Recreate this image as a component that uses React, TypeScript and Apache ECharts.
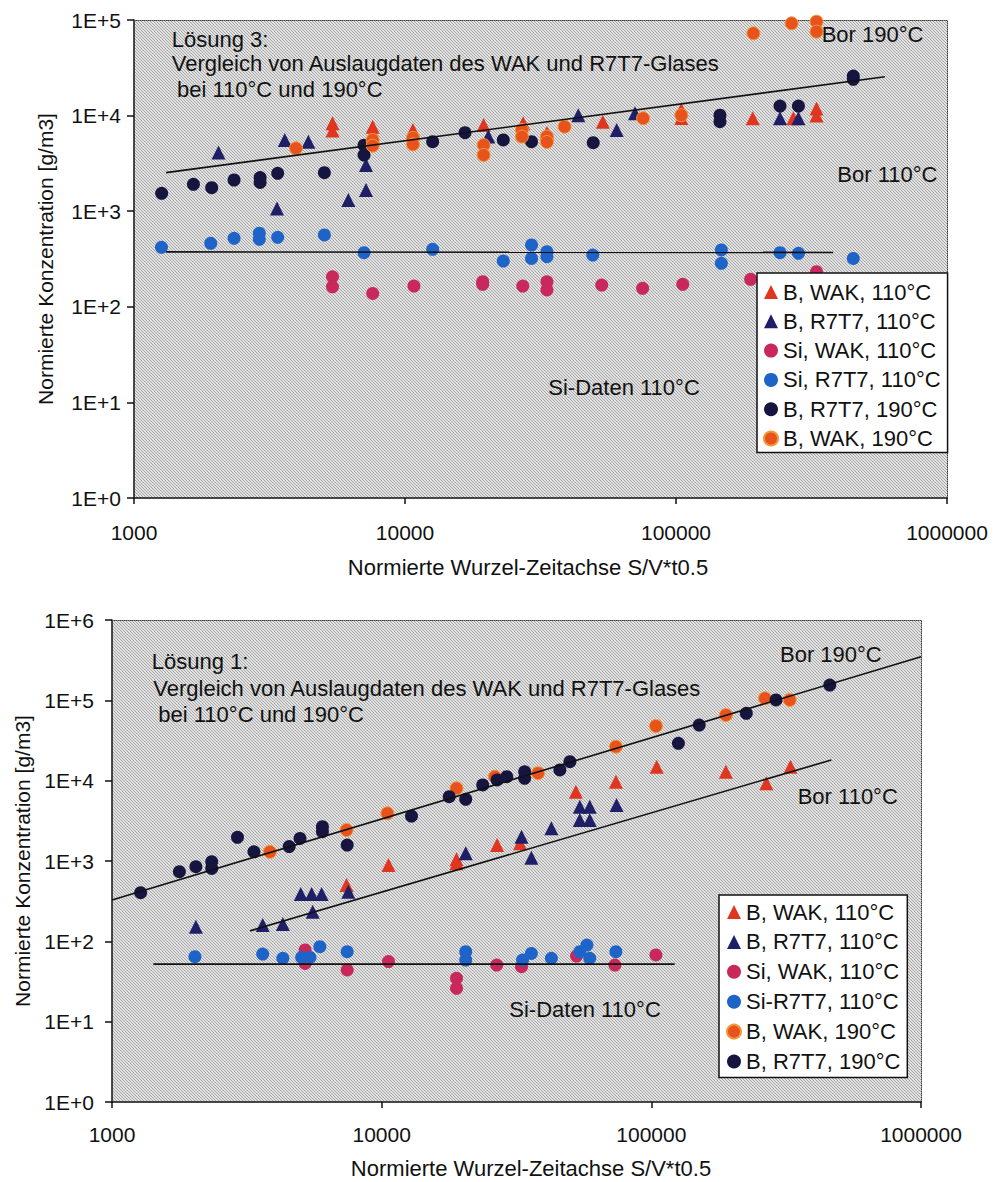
import React, { useEffect, useRef } from "react";
import * as echarts from "echarts";

const FONT = '"Liberation Sans", Arial, Helvetica, sans-serif';

// ---------- Top chart (Lösung 3) ----------
const topBWak110 = [
  [5400, 8300], [5400, 7000], [7600, 7650], [7600, 6500], [10700, 7080], [19500, 7990],
  [27300, 8300], [33400, 6580], [53700, 8630], [104600, 11500], [104600, 9440],
  [192000, 9380], [271000, 9380], [330000, 11900], [330000, 10000],
];
const topBR7T7110 = [
  [2050, 4100], [3370, 1070], [3600, 5560], [4400, 5330], [6180, 1310], [7180, 1670],
  [7180, 3040], [20300, 6030], [43600, 10100], [60400, 7080], [70600, 10570],
  [242000, 9380], [283000, 9380],
];
const topSiWak110 = [
  [5400, 206], [5400, 162], [7600, 138], [10790, 165], [19350, 183], [19350, 172],
  [27200, 165], [33400, 183], [33400, 150], [53200, 169], [75300, 156], [105900, 172],
  [188600, 194], [330000, 233],
];
const topSiR7T7110 = [
  [1263, 419], [1919, 461], [2340, 520], [2900, 588], [2900, 508], [3390, 533],
  [5040, 564], [7060, 368], [12650, 399], [23050, 301], [29300, 443], [29300, 321],
  [33400, 377], [33400, 334], [49300, 348], [147000, 393], [147000, 285],
  [242000, 368], [283000, 363], [451000, 321],
];
const topBR7T7190 = [
  [1265, 1540], [1657, 1910], [1935, 1760], [2340, 2120], [2920, 2250], [2920, 2000],
  [3390, 2490], [5040, 2530], [7060, 4900], [7060, 3870], [12650, 5330], [16650, 6630],
  [23050, 5560], [29300, 5330], [49500, 5210], [145300, 10100], [145300, 8630],
  [242000, 12600], [283000, 12600], [451000, 25900], [451000, 24000],
];
const topBWak190 = [
  [3960, 4550], [7600, 5560], [7600, 4850], [10700, 5850], [10700, 5000], [19500, 4920],
  [19500, 3870], [27000, 7080], [27000, 6030], [33400, 6030], [33400, 5300],
  [38800, 7650], [75600, 9380], [104600, 10100], [193000, 72600], [267000, 92300],
  [330000, 96000], [330000, 75500],
];
const topBorLine = [[1313, 2530], [590000, 25500]];
const topSiLine = [[1313, 375], [380000, 370]];

// ---------- Bottom chart (Lösung 1) ----------
const botBWak110 = [
  [7410, 503], [10600, 891], [18950, 935], [18950, 1050], [26800, 1580], [32600, 1660],
  [52500, 7290], [73900, 9700], [104700, 14900], [189000, 12900], [267000, 9260],
  [328000, 14900],
];
const botBR7T7110 = [
  [2047, 152], [3620, 160], [4300, 164], [5010, 388], [5500, 388], [5990, 388],
  [5550, 234], [7520, 415], [20500, 1245], [33000, 2010], [35900, 1100], [42600, 2550],
  [54300, 4740], [59100, 4740], [54300, 3230], [59100, 3230], [74300, 4980],
];
const botSiWak110 = [
  [5200, 78], [5200, 53], [7450, 44], [10600, 56], [18950, 34.7], [18950, 26],
  [26700, 50.7], [33000, 48.3], [52800, 65.6], [73300, 50.7], [104000, 67.6],
];
const botSiR7T7110 = [
  [2030, 64.5], [3620, 69.5], [4300, 61.4], [5050, 63], [5420, 63], [5900, 85.7],
  [7450, 74.3], [20500, 74.3], [20500, 58.5], [33300, 58.5], [35900, 70.8],
  [42600, 61.4], [54300, 74.3], [57700, 90], [59100, 61.4], [73900, 74.3],
];
const botBWak190 = [
  [3850, 1300], [7410, 2430], [10500, 3930], [18950, 8040], [26300, 11200],
  [38000, 12400], [73900, 26500], [104000, 47900], [189000, 65600], [264000, 106000],
  [326000, 101000],
];
const botBR7T7190 = [
  [1277, 403], [1778, 736], [2047, 849], [2343, 980], [2343, 809], [2920, 1970],
  [3360, 1300], [4540, 1510], [4980, 1910], [6030, 2670], [6030, 2320], [7450, 1580],
  [12900, 3630], [17800, 6310], [20500, 5860], [23700, 8840], [26800, 10200],
  [29100, 11200], [33900, 12900], [33900, 10700], [45800, 13600], [49900, 17200],
  [126000, 29200], [150500, 49300], [225000, 69000], [290000, 101000], [459000, 155000],
];
const botBor190Line = [[1000, 327], [1000000, 349000]];
const botBor110Line = [[3250, 135], [465000, 18100]];
const botSiLine = [[1423, 52], [122000, 52]];

const topLegendNames = [
  "B, WAK, 110°C", "B, R7T7, 110°C", "Si, WAK, 110°C",
  "Si, R7T7, 110°C", "B, R7T7, 190°C", "B, WAK, 190°C",
];
const botLegendNames = [
  "B, WAK, 110°C", "B, R7T7, 110°C", "Si, WAK, 110°C",
  "Si-R7T7, 110°C", "B, WAK, 190°C", "B, R7T7, 190°C",
];

const X_NAME = "Normierte Wurzel-Zeitachse S/V*t0.5";
const Y_NAME = "Normierte Konzentration [g/m3]";

const C = {
  red: "#e0361f",
  navyTri: "#1f1f68",
  pink: "#c8285c",
  blue: "#1e64c8",
  navy: "#15153f",
  orange: "#e8521c",
};

function makeStipple(): any {
  try {
    const cv = document.createElement("canvas");
    cv.width = 3;
    cv.height = 3;
    const ctx = cv.getContext("2d");
    if (!ctx) return "#d2d2d2";
    ctx.fillStyle = "#e2e2e2";
    ctx.fillRect(0, 0, 3, 3);
    ctx.fillStyle = "#a6a6a6";
    ctx.fillRect(0, 0, 1, 1);
    ctx.fillRect(1, 1, 1, 1);
    ctx.fillRect(2, 2, 1, 1);
    return { image: cv, repeat: "repeat" };
  } catch (e) {
    return "#d2d2d2";
  }
}

function scatter(name: string, data: number[][], idx: number, symbol: string, color: string, extra: any = {}) {
  return {
    type: "scatter",
    name,
    data,
    xAxisIndex: idx,
    yAxisIndex: idx,
    symbol,
    symbolSize: symbol === "triangle" ? 14 : 13,
    itemStyle: { color, opacity: 1, ...extra },
    z: 2,
  };
}

function trend(data: number[][], idx: number) {
  return {
    type: "line",
    data,
    xAxisIndex: idx,
    yAxisIndex: idx,
    symbol: "none",
    showSymbol: false,
    lineStyle: { color: "#111", width: 1.6 },
    z: 3,
    silent: true,
  };
}

function mainX(gridIndex: number, labelMargin: number, nameGap: number, namePad: number[]) {
  return {
    type: "log",
    logBase: 10,
    gridIndex,
    min: 1000,
    max: 1000000,
    position: "bottom",
    name: X_NAME,
    nameLocation: "middle",
    nameGap,
    nameTextStyle: { fontSize: 22, color: "#111", fontFamily: FONT, padding: namePad },
    axisLine: { show: true, onZero: false, lineStyle: { color: "#111", width: 1.5 } },
    axisTick: { show: true, length: 6, lineStyle: { color: "#111", width: 1.5 } },
    minorTick: { show: false },
    axisLabel: {
      formatter: (v: number) => String(Math.round(v)),
      margin: labelMargin,
      fontSize: 21,
      color: "#111",
      fontFamily: FONT,
    },
    splitLine: { show: false },
  };
}

function mainY(gridIndex: number, max: number, labelMargin: number) {
  return {
    type: "log",
    logBase: 10,
    gridIndex,
    min: 1,
    max,
    position: "left",
    name: Y_NAME,
    nameLocation: "middle",
    nameGap: 78,
    nameRotate: 90,
    nameTextStyle: { fontSize: 21, color: "#111", fontFamily: FONT },
    axisLine: { show: true, onZero: false, lineStyle: { color: "#111", width: 1.5 } },
    axisTick: { show: true, length: 7, lineStyle: { color: "#111", width: 1.5 } },
    minorTick: { show: false },
    axisLabel: {
      formatter: (v: number) => "1E+" + Math.round(Math.log10(v)),
      margin: labelMargin,
      fontSize: 21,
      color: "#111",
      fontFamily: FONT,
    },
    splitLine: { show: false },
  };
}

function borderX(gridIndex: number) {
  return {
    type: "log",
    gridIndex,
    min: 1000,
    max: 1000000,
    position: "top",
    axisLine: { show: true, onZero: false, lineStyle: { color: "#444", width: 1, type: "dotted" } },
    axisTick: { show: false },
    axisLabel: { show: false },
    splitLine: { show: false },
  };
}

function borderY(gridIndex: number, max: number) {
  return {
    type: "log",
    gridIndex,
    min: 1,
    max,
    position: "right",
    axisLine: { show: true, onZero: false, lineStyle: { color: "#444", width: 1, type: "dotted" } },
    axisTick: { show: false },
    axisLabel: { show: false },
    splitLine: { show: false },
  };
}

function label(text: string, x: number, y: number) {
  return {
    type: "text",
    x,
    y,
    z: 10,
    style: {
      text,
      fontSize: 22,
      fontFamily: FONT,
      fill: "#111",
      align: "left",
      verticalAlign: "middle",
    },
  };
}

function legendBox(names: string[], left: number, top: number, padding: number[], gap: number) {
  return {
    data: names,
    orient: "vertical",
    left,
    top,
    padding,
    itemGap: gap,
    itemWidth: 14,
    itemHeight: 14,
    backgroundColor: "#ffffff",
    borderColor: "#111",
    borderWidth: 1.5,
    borderRadius: 0,
    selectedMode: false,
    textStyle: { fontSize: 22, lineHeight: 22, color: "#111", fontFamily: FONT },
    z: 6,
  };
}

export default function App() {
  const ref = useRef<HTMLDivElement>(null);

  useEffect(() => {
    if (!ref.current) return;
    const chart = echarts.init(ref.current, null, { renderer: "svg" });
    const orangeExtra = { borderColor: "#f29a3a", borderWidth: 1 };
    const bg = makeStipple();
    const option: any = {
      animation: false,
      backgroundColor: "#ffffff",
      textStyle: { fontFamily: FONT },
      grid: [
        { left: 134, top: 20, width: 813, height: 478, show: true, backgroundColor: bg, borderWidth: 0 },
        { left: 112, top: 620, width: 809, height: 482, show: true, backgroundColor: bg, borderWidth: 0 },
      ],
      xAxis: [
        mainX(0, 24, 58, [0, 25, 0, 0]),
        borderX(0),
        mainX(1, 22, 55, [0, 0, 0, 29]),
        borderX(1),
      ],
      yAxis: [
        mainY(0, 100000, 13),
        borderY(0, 100000),
        mainY(1, 1000000, 18),
        borderY(1, 1000000),
      ],
      legend: [
        legendBox(topLegendNames, 757, 273, [8, 7, 3, 6], 7.3),
        legendBox(botLegendNames, 719, 895, [6, 7, 5, 7], 7.9),
      ],
      series: [
        // top chart: axes 0
        scatter("B, WAK, 110°C", topBWak110, 0, "triangle", C.red),
        scatter("B, R7T7, 110°C", topBR7T7110, 0, "triangle", C.navyTri),
        scatter("Si, WAK, 110°C", topSiWak110, 0, "circle", C.pink),
        scatter("Si, R7T7, 110°C", topSiR7T7110, 0, "circle", C.blue),
        scatter("B, R7T7, 190°C", topBR7T7190, 0, "circle", C.navy),
        scatter("B, WAK, 190°C", topBWak190, 0, "circle", C.orange, orangeExtra),
        trend(topBorLine, 0),
        trend(topSiLine, 0),
        // bottom chart: axes 2
        scatter("B, WAK, 110°C", botBWak110, 2, "triangle", C.red),
        scatter("B, R7T7, 110°C", botBR7T7110, 2, "triangle", C.navyTri),
        scatter("Si, WAK, 110°C", botSiWak110, 2, "circle", C.pink),
        scatter("Si-R7T7, 110°C", botSiR7T7110, 2, "circle", C.blue),
        scatter("B, WAK, 190°C", botBWak190, 2, "circle", C.orange, orangeExtra),
        scatter("B, R7T7, 190°C", botBR7T7190, 2, "circle", C.navy),
        trend(botBor190Line, 2),
        trend(botBor110Line, 2),
        trend(botSiLine, 2),
      ],
      graphic: [
        label("Lösung 3:", 171.7, 39),
        label("Vergleich von Auslaugdaten des WAK und R7T7-Glases", 171.7, 63),
        label("bei 110°C und 190°C", 177, 89),
        label("Bor 190°C", 821.7, 34),
        label("Bor 110°C", 837.3, 174),
        label("Si-Daten 110°C", 548.3, 387),
        label("Lösung 1:", 151.7, 661),
        label("Vergleich von Auslaugdaten des WAK und R7T7-Glases", 153.3, 688),
        label("bei 110°C und 190°C", 158.3, 714),
        label("Bor 190°C", 780, 654),
        label("Bor 110°C", 797.7, 796),
        label("Si-Daten 110°C", 509.3, 1009),
      ],
    };
    chart.setOption(option);
    return () => chart.dispose();
  }, []);

  return (
    <div
      ref={ref}
      style={{ position: "absolute", left: 0, top: 0, width: 994, height: 1182, background: "#fff" }}
    />
  );
}
